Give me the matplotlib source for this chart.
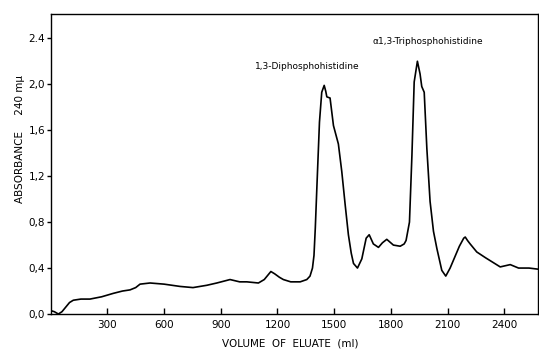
import numpy as np
import matplotlib
matplotlib.use("Agg")
import matplotlib.pyplot as plt

# eluate volume (ml) and absorbance at 240 mu
volume = [0, 20, 41, 60, 80, 100, 120, 160, 208, 270, 332, 380, 420, 450, 473,
          526, 600, 685, 753, 826, 879, 949, 1000, 1038, 1099, 1130, 1150, 1165,
          1185, 1210, 1231, 1270, 1320, 1355, 1372, 1385, 1393, 1400, 1408, 1422,
          1434, 1447, 1455, 1461, 1478, 1496, 1522, 1540, 1558, 1575, 1590, 1602,
          1623, 1646, 1669, 1685, 1707, 1734, 1755, 1778, 1813, 1849, 1870, 1880,
          1898, 1911, 1923, 1940, 1954, 1963, 1976, 1990, 2007, 2025, 2043, 2069,
          2090, 2113, 2162, 2185, 2193, 2205, 2219, 2254, 2300, 2378, 2431, 2475,
          2530, 2580]
absorbance = [0.03, 0.02, 0.00, 0.02, 0.06, 0.10, 0.12, 0.13, 0.13, 0.15, 0.18,
              0.20, 0.21, 0.23, 0.26, 0.27, 0.26, 0.24, 0.23, 0.25, 0.27, 0.30,
              0.28, 0.28, 0.27, 0.30, 0.34, 0.37, 0.35, 0.32, 0.30, 0.28, 0.28,
              0.30, 0.33, 0.40, 0.51, 0.75, 1.09, 1.67, 1.93, 1.99, 1.94, 1.89,
              1.88, 1.64, 1.48, 1.24, 0.95, 0.69, 0.53, 0.44, 0.40, 0.48, 0.66,
              0.69, 0.61, 0.58, 0.62, 0.65, 0.60, 0.59, 0.61, 0.64, 0.80, 1.38,
              2.02, 2.20, 2.09, 1.98, 1.93, 1.44, 0.98, 0.72, 0.57, 0.38, 0.33,
              0.40, 0.59, 0.66, 0.67, 0.64, 0.61, 0.54, 0.49, 0.41, 0.43, 0.40,
              0.40, 0.39]

xticks = [300, 600, 900, 1200, 1500, 1800, 2100, 2400]
yticks = [0.0, 0.4, 0.8, 1.2, 1.6, 2.0, 2.4]
ytick_labels = ["0,0", "0,4", "0,8", "1,2", "1,6", "2,0", "2.4"]

peak_labels = ["1,3-Diphosphohistidine", "α1,3-Triphosphohistidine"]
peak_label_pos = [(1081, 2.15), (1700, 2.37)]

plt.rcParams['font.family'] = ['DejaVu Sans']

fig = plt.figure(figsize=(5.39, 3.57), dpi=100)
ax = fig.add_axes([0.0939, 0.1204, 0.905, 0.840])

ax.plot(volume, absorbance, color='black', linewidth=1.2,
        solid_joinstyle='round')

ax.set_xlim(0, 2580)
ax.set_ylim(0, 2.61)
ax.set_xticks(xticks)
ax.set_xticklabels([str(t) for t in xticks], fontsize=7.5)
ax.set_yticks(yticks)
ax.set_yticklabels(ytick_labels, fontsize=7.5)
ax.tick_params(axis='x', direction='in', length=4, width=1, pad=4)
ax.tick_params(axis='y', direction='out', length=3, width=1, pad=1)
for s in ax.spines.values():
    s.set_linewidth(1.0)

for txt, (px, py) in zip(peak_labels, peak_label_pos):
    ax.text(px, py, txt, fontsize=6.5, ha='left', va='center')

fig.text(0.538, 0.039, "VOLUME  OF  ELUATE  (ml)", fontsize=7.5,
         ha='center', va='center')
fig.text(0.037, 0.61, "ABSORBANCE     240 mμ", fontsize=7.5, rotation=90,
         ha='center', va='center')

fig.savefig("out.png", dpi=100)
